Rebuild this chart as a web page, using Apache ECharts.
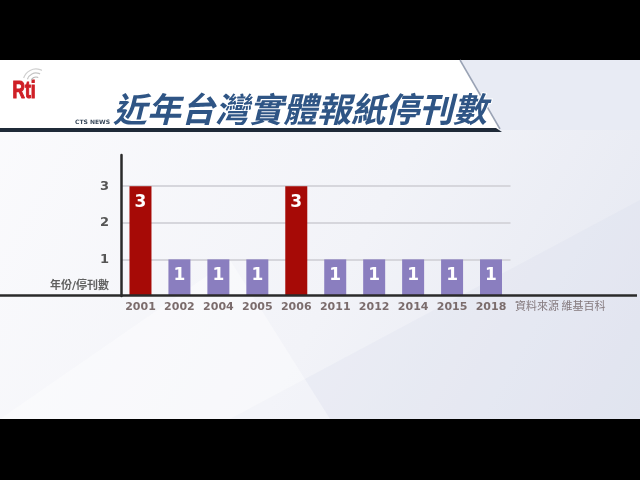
<!DOCTYPE html>
<html>
<head>
<meta charset="utf-8">
<script src="https://cdn.jsdelivr.net/npm/echarts@6/dist/echarts.min.js"></script>
<style>
html,body{margin:0;padding:0;background:#000;}
#c{width:640px;height:480px;}
</style>
</head>
<body>
<div id="c"></div>
<script>
const years = ['2001','2002','2004','2005','2006','2011','2012','2014','2015','2018'];
const closures = [3,1,1,1,3,1,1,1,1,1];
const titleText = '近年台灣實體報紙停刊數';
const axisCaption = '年份/停刊數';
const sourceText = '資料來源 維基百科';

const FONT = "'DejaVu Sans','Noto Sans CJK TC',sans-serif";
const chart = echarts.init(document.getElementById('c'));

const option = {
  backgroundColor: '#000',
  animation: false,
  textStyle: { fontFamily: FONT },
  grid: { left: 121, right: 129.5, top: 155, bottom: 184 },
  graphic: [
    { type: 'rect', z: -10, shape: { x: 0, y: 60, width: 640, height: 359 },
      style: { fill: new echarts.graphic.LinearGradient(0, 0, 1, 1, [
        { offset: 0, color: '#fbfbfd' }, { offset: 0.55, color: '#f2f3f8' }, { offset: 1, color: '#e4e7f1' }]) } },
    { type: 'polygon', z: -9, shape: { points: [[230,419],[640,200],[640,419]] },
      style: { fill: 'rgba(215,220,235,0.25)' } },
    { type: 'polygon', z: -9, shape: { points: [[0,419],[230,260],[330,419]] },
      style: { fill: 'rgba(255,255,255,0.4)' } },
    { type: 'polygon', z: -9, shape: { points: [[460,60],[640,60],[640,130],[500,130]] },
      style: { fill: '#e8ebf4' } },
    { type: 'polygon', z: -9, shape: { points: [[0,60],[460,60],[500,130],[0,130]] },
      style: { fill: '#ffffff' } },
    { type: 'line', z: -8, shape: { x1: 460, y1: 60, x2: 500, y2: 129 },
      style: { stroke: '#9aa3b5', lineWidth: 1.5 } },
    { type: 'polygon', z: -8, shape: { points: [[0,128],[496,128],[502,132],[0,132]] },
      style: { fill: '#1f2a38' } },
    { type: 'text', left: 12, top: 79, z: 5, scaleX: 0.72,
      style: { text: 'Rti', fontSize: 24, fontWeight: 'bold', fill: '#cf1f26', stroke: '#cf1f26', lineWidth: 1.2, fontFamily: "'Liberation Sans',sans-serif" } },
    { type: 'arc', z: 5, shape: { cx: 36, cy: 82, r: 5, startAngle: -Math.PI*0.9, endAngle: -Math.PI*0.35 }, style: { stroke: '#b8b8b8', lineWidth: 1.2, fill: null } },
    { type: 'arc', z: 5, shape: { cx: 36, cy: 82, r: 9, startAngle: -Math.PI*0.9, endAngle: -Math.PI*0.35 }, style: { stroke: '#c4c4c4', lineWidth: 1.2, fill: null } },
    { type: 'arc', z: 5, shape: { cx: 36, cy: 82, r: 13, startAngle: -Math.PI*0.9, endAngle: -Math.PI*0.35 }, style: { stroke: '#cfcfcf', lineWidth: 1.2, fill: null } },
    { type: 'text', left: 75, top: 119, z: 5,
      style: { text: 'CTS NEWS', fontSize: 6, fontWeight: 'bold', fill: '#3a4a5c', fontFamily: "'DejaVu Sans',sans-serif" } },
    { type: 'text', left: 112, top: 91, z: 5,
      style: { text: titleText, fontSize: 34, fontWeight: 'bold', fontStyle: 'italic', fill: '#2f5585',
        stroke: '#ffffff', lineWidth: 2, fontFamily: "'Noto Sans CJK TC',sans-serif" } },
    { type: 'line', z: 20, shape: { x1: 0, y1: 295.5, x2: 637, y2: 295.5 },
      style: { stroke: '#2a2a2a', lineWidth: 2.5 } },
    { type: 'text', left: 515, top: 300, z: 5,
      style: { text: sourceText, fontSize: 11, fill: '#857a7e', fontFamily: "'Noto Sans CJK TC',sans-serif" } }
  ],
  xAxis: {
    type: 'category',
    data: years,
    axisLine: { show: false },
    axisTick: { show: false },
    axisLabel: { interval: 0, margin: 6, fontSize: 11, fontWeight: 'bold', color: '#7b6c6c' }
  },
  yAxis: {
    type: 'value',
    min: 0,
    max: 3.85,
    interval: 1,
    axisLine: { show: true, lineStyle: { color: '#2a2a2a', width: 2.5 } },
    axisTick: { show: false },
    splitLine: { show: true, showMinLine: false, showMaxLine: false, lineStyle: { color: '#d6d6dc', width: 2 } },
    axisLabel: {
      margin: 12,
      formatter: function (v) {
        if (v === 0) return '{n|' + axisCaption + '}';
        if (Number.isInteger(v)) return '{v|' + v + '}';
        return '';
      },
      rich: {
        n: { fontSize: 11, fontWeight: 'bold', color: '#5f5f5f', padding: [0, 0, 20, 0] },
        v: { fontSize: 13, fontWeight: 'bold', color: '#555' }
      }
    }
  },
  series: [{
    type: 'bar',
    data: closures,
    barWidth: 22,
    itemStyle: {
      color: function (p) { return p.value >= 3 ? '#a60a06' : '#8a7ebf'; }
    },
    label: {
      show: true,
      position: 'insideTop',
      distance: 8,
      fontSize: 17,
      fontWeight: 'bold',
      color: '#ffffff'
    }
  }]
};
chart.setOption(option);
</script>
</body>
</html>
